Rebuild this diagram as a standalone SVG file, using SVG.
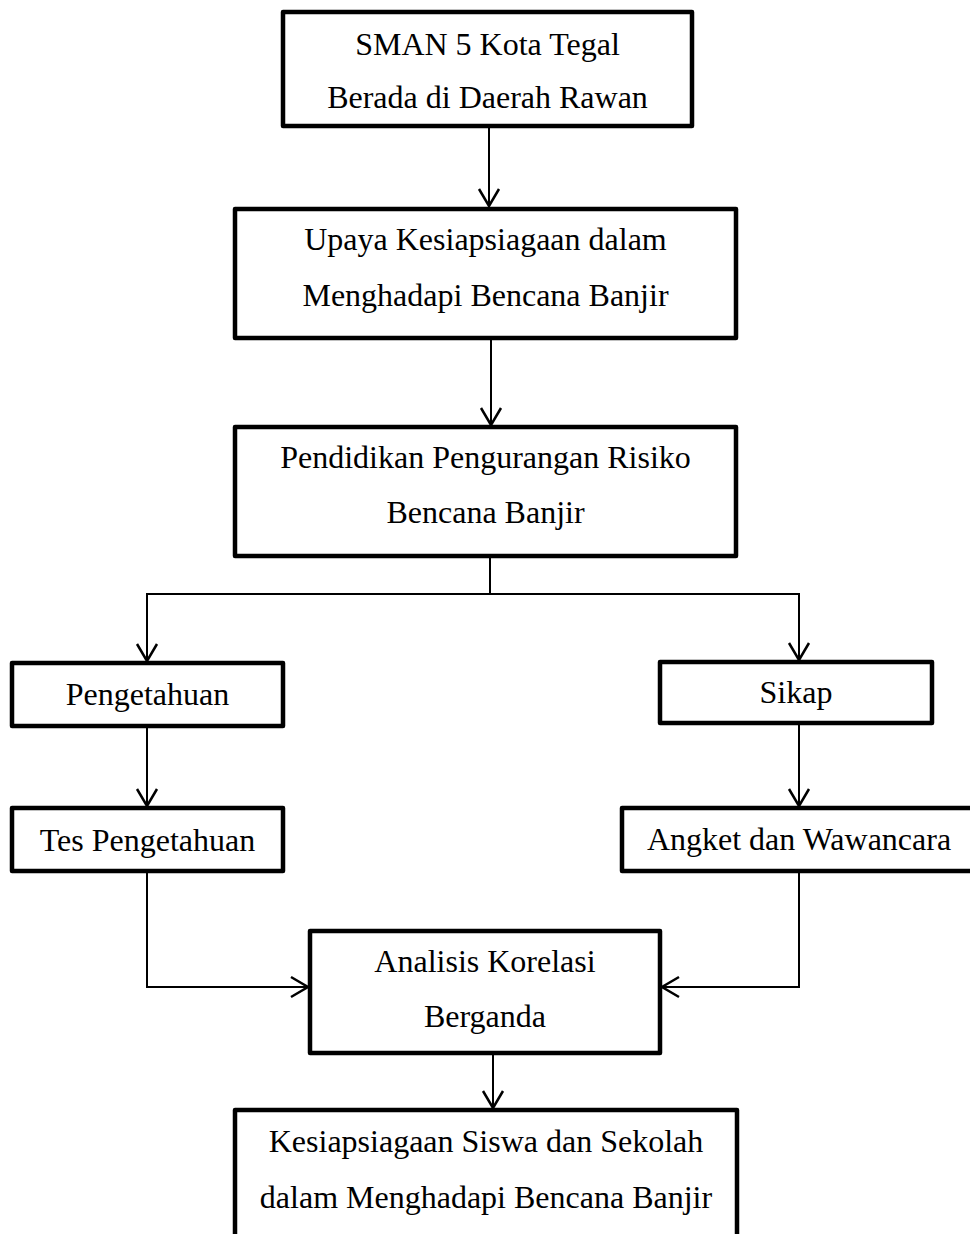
<svg xmlns="http://www.w3.org/2000/svg" width="970" height="1234" viewBox="0 0 970 1234">
<style>
.box{fill:#fff;stroke:#000;stroke-width:4.5;stroke-linejoin:round}
.t{font-family:"Liberation Serif","Times New Roman",serif;font-size:32px;fill:#000;text-anchor:middle}
.c{fill:none;stroke:#000;stroke-width:2}
</style>
<defs>
<marker id="arr" markerUnits="userSpaceOnUse" markerWidth="24" markerHeight="24" viewBox="-20 -12 24 24" refX="0" refY="0" orient="auto">
<path d="M-17,-10 L0,0 L-17,10" fill="none" stroke="#000" stroke-width="2.5"/>
</marker>
</defs>
<rect width="970" height="1234" fill="#fff"/>
<g id="connectors">
<path class="c" d="M489,126 V206" marker-end="url(#arr)"/>
<path class="c" d="M491,338 V425" marker-end="url(#arr)"/>
<path class="c" d="M490,556 V594 H147 V661" marker-end="url(#arr)"/>
<path class="c" d="M490,594 H799 V660" marker-end="url(#arr)"/>
<path class="c" d="M147,726 V806" marker-end="url(#arr)"/>
<path class="c" d="M799,723 V806" marker-end="url(#arr)"/>
<path class="c" d="M147,871 V987 H308" marker-end="url(#arr)"/>
<path class="c" d="M799,871 V987 H662" marker-end="url(#arr)"/>
<path class="c" d="M493,1053 V1108" marker-end="url(#arr)"/>
</g>
<g id="n1"><rect class="box" x="283" y="12" width="409" height="114"/>
<text class="t" x="487.5" y="55">SMAN 5 Kota Tegal</text>
<text class="t" x="487.5" y="108">Berada di Daerah Rawan</text></g>
<g id="n2"><rect class="box" x="235" y="209" width="501" height="129"/>
<text class="t" x="485.5" y="250">Upaya Kesiapsiagaan dalam</text>
<text class="t" x="485.5" y="306">Menghadapi Bencana Banjir</text></g>
<g id="n3"><rect class="box" x="235" y="427" width="501" height="129"/>
<text class="t" x="485.5" y="468">Pendidikan Pengurangan Risiko</text>
<text class="t" x="485.5" y="523">Bencana Banjir</text></g>
<g id="n4"><rect class="box" x="12" y="663" width="271" height="63"/>
<text class="t" x="147.5" y="705">Pengetahuan</text></g>
<g id="n5"><rect class="box" x="660" y="662" width="272" height="61"/>
<text class="t" x="796" y="703">Sikap</text></g>
<g id="n6"><rect class="box" x="12" y="808" width="271" height="63"/>
<text class="t" x="147.5" y="851">Tes Pengetahuan</text></g>
<g id="n7"><rect class="box" x="622" y="808" width="354" height="63"/>
<text class="t" x="799" y="850">Angket dan Wawancara</text></g>
<g id="n8"><rect class="box" x="310" y="931" width="350" height="122"/>
<text class="t" x="485" y="972">Analisis Korelasi</text>
<text class="t" x="485" y="1027">Berganda</text></g>
<g id="n9"><rect class="box" x="235" y="1110" width="502" height="140"/>
<text class="t" x="486" y="1152">Kesiapsiagaan Siswa dan Sekolah</text>
<text class="t" x="486" y="1208">dalam Menghadapi Bencana Banjir</text></g>
</svg>
